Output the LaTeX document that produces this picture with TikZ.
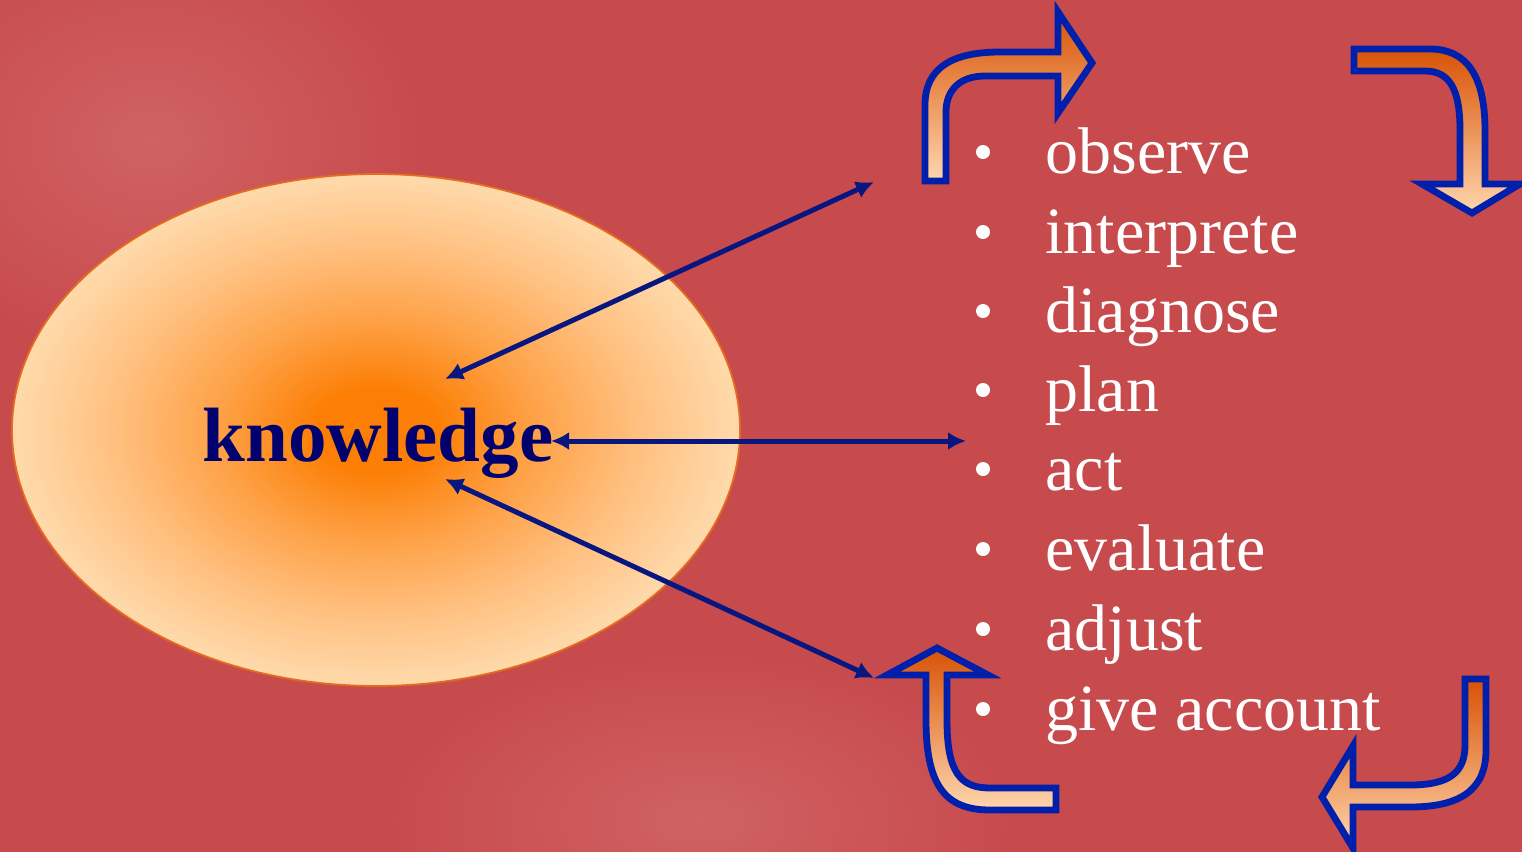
\documentclass[tikz,border=0pt]{standalone}
\usepackage{fontspec}
\setmainfont{Liberation Serif}
\usetikzlibrary{arrows.meta}

\definecolor{bgred}{RGB}{199,74,77}
\definecolor{bglight}{RGB}{208,98,99}
\definecolor{kcore}{RGB}{252,126,4}
\definecolor{kmid}{RGB}{254,162,72}
\definecolor{kmid2}{RGB}{255,192,128}
\definecolor{kedge}{RGB}{255,218,172}
\definecolor{kline}{RGB}{228,108,28}
\definecolor{navy}{RGB}{0,0,110}
\definecolor{linkblue}{RGB}{8,22,128}
\definecolor{rimblue}{RGB}{0,32,172}
\definecolor{flowdark}{RGB}{216,82,4}
\definecolor{flowlight}{RGB}{255,214,174}

\pgfdeclareradialshading{knowshade}{\pgfpoint{0bp}{0bp}}{%
  color(0bp)=(kcore); color(4bp)=(kcore); color(11bp)=(kmid);
  color(18bp)=(kmid2); color(25bp)=(kedge); color(50bp)=(kedge)}

\tikzset{
  link/.style={draw=linkblue, line width=2.5pt,
    {Latex[length=9pt,width=9pt]}-{Latex[length=9pt,width=9pt]}},
  flowarrow/.style={draw=rimblue, line width=3.4pt, line join=miter,
    top color=flowdark, bottom color=flowlight},
  item/.style={anchor=base west, text=white, inner sep=0pt,
    font=\fontsize{33}{36}\selectfont},
  dot/.style={fill=white, draw=none},
}

\begin{document}
\begin{tikzpicture}[x=0.5pt, y=-0.5pt]
  \useasboundingbox (0,0) rectangle (1522,852);

  % backdrop with soft lighter patches
  \fill[bgred] (0,0) rectangle (1522,852);
  \shade[inner color=bglight, outer color=bgred] (150,140) ellipse (280 and 220);
  \shade[inner color=bglight, outer color=bgred] (700,820) ellipse (320 and 170);

  % knowledge ellipse
  \shade[shading=knowshade] (376,430) ellipse (364 and 256);
  \draw[kline, line width=0.9pt] (376,430) ellipse (364 and 256);
  \node[anchor=base west, inner sep=0pt, text=navy,
        font=\fontsize{38.5}{40}\selectfont\bfseries] (know) at (202,461) {knowledge};

  % list of activities
  \foreach \txt/\yb [count=\i] in {observe/173, interprete/253, diagnose/332,
      plan/411, act/490, evaluate/570, adjust/650, give account/730} {
    \fill[dot] (983,\yb-21) circle (7);
    \node[item] (item\i) at (1045,\yb) {\txt};
  }

  % double-headed links
  \coordinate (kA) at (445,379);
  \coordinate (kB) at (551,441);
  \coordinate (kC) at (445,479);
  \coordinate (lA) at (874,182);
  \coordinate (lB) at (966,441);
  \coordinate (lC) at (874,678);
  \draw[link] (kA) -- (lA);
  \draw[link] (kB) -- (lB);
  \draw[link] (kC) -- (lC);

  % cycle of bent block arrows
  \path[flowarrow] (925,181) -- (925,105)
     .. controls (925,68) and (952,52) .. (1000,52) -- (1058,52) -- (1058,12)
     -- (1092,63) -- (1058,113) -- (1058,76) -- (985,76)
     .. controls (960,76) and (946,90) .. (946,112) -- (946,181) -- cycle;

  \path[flowarrow] (1354,49) -- (1430,49)
     .. controls (1466,49) and (1485,75) .. (1485,130) -- (1485,184) -- (1520,184)
     -- (1472,213) -- (1422,184) -- (1460,184) -- (1460,130)
     .. controls (1460,90) and (1450,71) .. (1425,71) -- (1354,71) -- cycle;

  \path[flowarrow] (1465,679) -- (1486,679) -- (1486,750)
     .. controls (1486,790) and (1460,807) .. (1410,807) -- (1353,807) -- (1353,848)
     -- (1322,797) -- (1353,746) -- (1353,785) -- (1410,785)
     .. controls (1450,785) and (1465,772) .. (1465,745) -- cycle;

  \path[flowarrow] (937,648) -- (988,675) -- (947,675) -- (947,720)
     .. controls (947,772) and (960,788) .. (990,788) -- (1056,788) -- (1056,810)
     -- (990,810) .. controls (945,810) and (926,785) .. (926,720) -- (926,675)
     -- (887,675) -- cycle;
\end{tikzpicture}
\end{document}
